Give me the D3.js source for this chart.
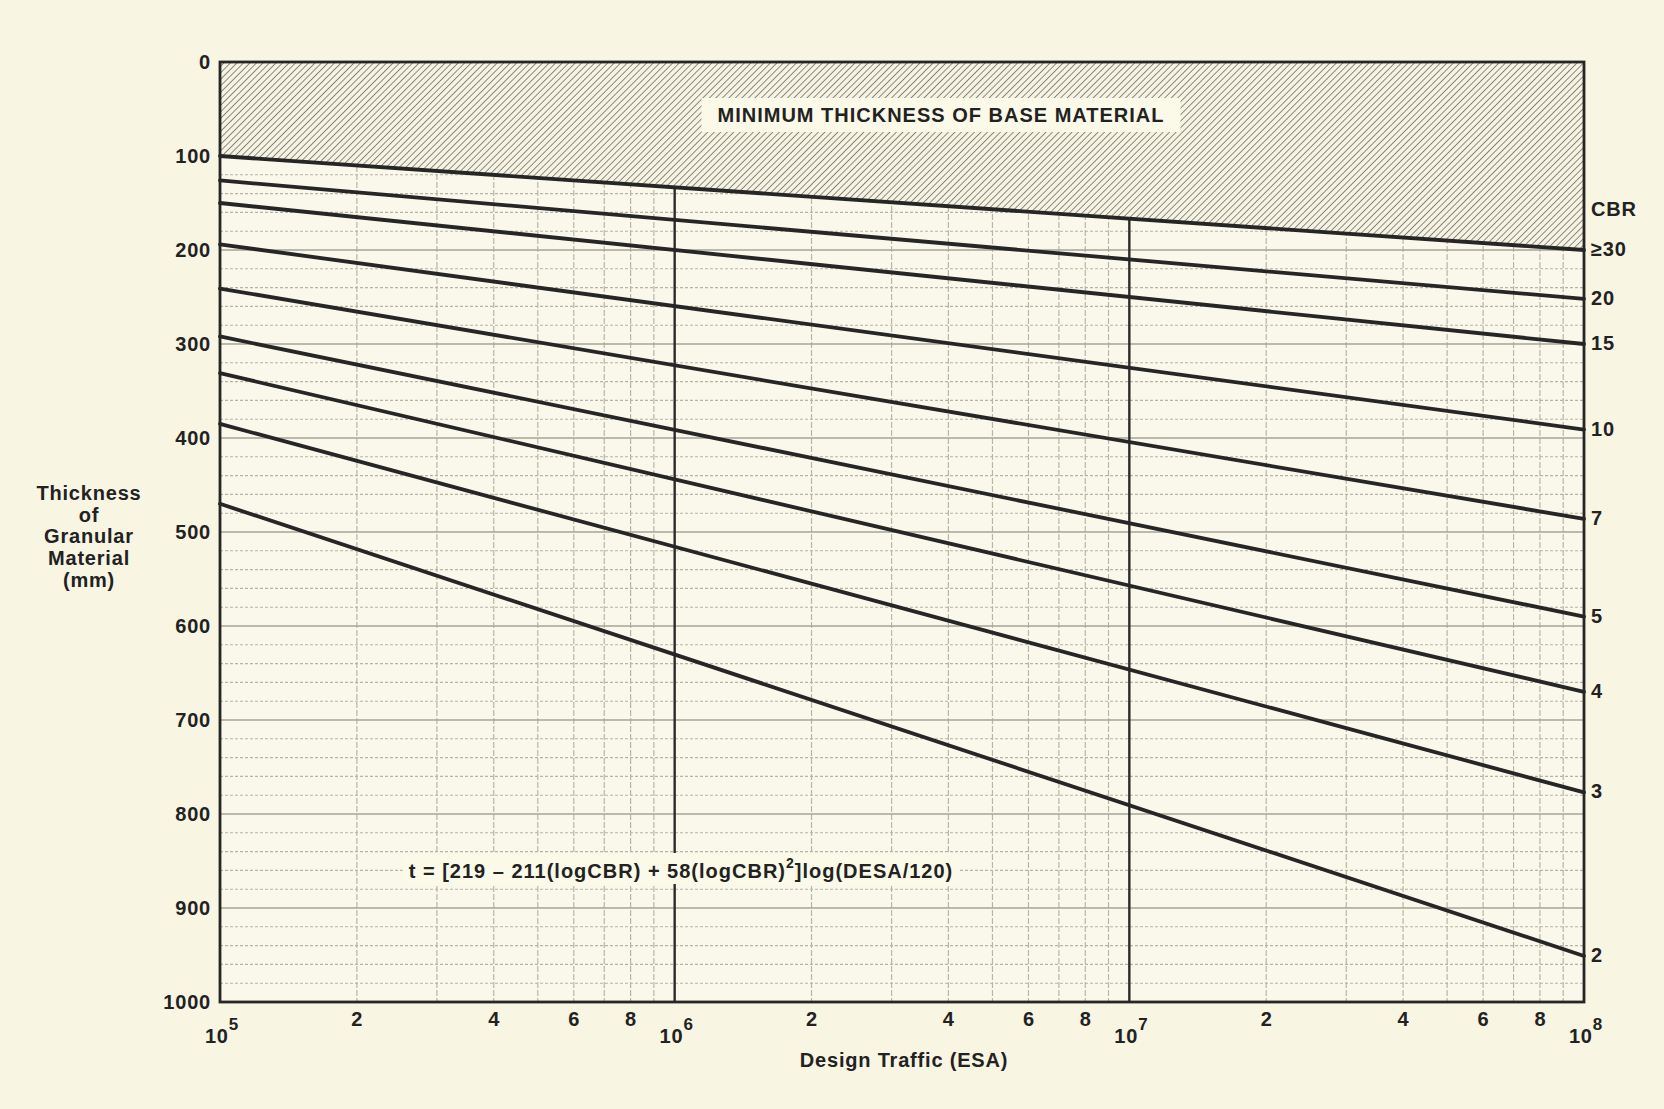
<!DOCTYPE html>
<html>
<head>
<meta charset="utf-8">
<script src="https://cdn.jsdelivr.net/npm/d3@7"></script>
<style>
  html, body { margin: 0; padding: 0; background: #f8f5e3; }
  svg { display: block; }
  text { font-family: "Liberation Sans", Arial, sans-serif; font-weight: bold; fill: #222; }
</style>
</head>
<body>
<svg id="chart" width="1664" height="1109"></svg>
<script>
// CBR curves: thickness (mm) read at the two ends of the traffic axis
const cbrLabels = ['≥30', '20', '15', '10', '7', '5', '4', '3', '2'];
const thickAt1e5 = [100, 126, 150, 194, 241, 292, 331, 385, 470];
const thickAt1e8 = [200, 252, 300, 391, 486, 590, 670, 777, 951];
const trafficEnds = [1e5, 1e8];

const yTicks = [0, 100, 200, 300, 400, 500, 600, 700, 800, 900, 1000];
const decades = [1e5, 1e6, 1e7, 1e8];
const decadeExp = ['5', '6', '7', '8'];
const minorMult = [2, 3, 4, 5, 6, 7, 8, 9];
const minorLabels = ['2', '4', '6', '8'];

const svg = d3.select('#chart');
const W = 1664, H = 1109;
const pLeft = 220, pRight = 1584, pTop = 62, pBottom = 1002;
const FS = 20, LS = '0.8px';

const x = d3.scaleLog().domain([1e5, 1e8]).range([pLeft, pRight]);
const y = d3.scaleLinear().domain([0, 1000]).range([pTop, pBottom]);

// background
svg.append('rect').attr('width', W).attr('height', H).attr('fill', '#f8f5e3');
svg.append('rect')
  .attr('x', pLeft).attr('y', pTop)
  .attr('width', pRight - pLeft).attr('height', pBottom - pTop)
  .attr('fill', '#faf8ea');

// hatch pattern
const defs = svg.append('defs');
defs.append('pattern')
  .attr('id', 'hatch')
  .attr('patternUnits', 'userSpaceOnUse')
  .attr('width', 4.6).attr('height', 4.6)
  .attr('patternTransform', 'rotate(45)')
  .append('line')
  .attr('x1', 0).attr('y1', 0).attr('x2', 0).attr('y2', 4.6)
  .attr('stroke', '#707068').attr('stroke-width', 1.6);

// grid
const grid = svg.append('g');
const minorX = [];
decades.slice(0, 3).forEach(d => minorMult.forEach(m => minorX.push(d * m)));

grid.selectAll('line.vminor')
  .data(minorX)
  .enter().append('line')
  .attr('class', 'vminor')
  .attr('x1', d => x(d)).attr('x2', d => x(d))
  .attr('y1', pTop).attr('y2', pBottom)
  .attr('stroke', '#b8b6a6').attr('stroke-width', 1.2)
  .attr('stroke-dasharray', '6,2');

grid.selectAll('line.hminor')
  .data(d3.range(20, 1000, 20))
  .enter().append('line')
  .attr('class', 'hminor')
  .attr('x1', pLeft).attr('x2', pRight)
  .attr('y1', d => y(d)).attr('y2', d => y(d))
  .attr('stroke', d => d % 100 === 0 ? '#a6a496' : '#b6b4a6')
  .attr('stroke-width', d => d % 100 === 0 ? 1.4 : 1.1)
  .attr('stroke-dasharray', d => d % 100 === 0 ? null : '3,2');

// decade lines
grid.selectAll('line.vmajor')
  .data([1e6, 1e7])
  .enter().append('line')
  .attr('class', 'vmajor')
  .attr('x1', d => x(d)).attr('x2', d => x(d))
  .attr('y1', pTop).attr('y2', pBottom)
  .attr('stroke', '#2b2b2b').attr('stroke-width', 2.4);

// hatched zone above the minimum line
const minData = trafficEnds.map((t, j) => ({ x: t, t: j === 0 ? thickAt1e5[0] : thickAt1e8[0] }));
const area = d3.area()
  .x(d => x(d.x))
  .y0(y(0))
  .y1(d => y(d.t));
svg.append('path').datum(minData).attr('d', area).attr('fill', '#f6f3e2');
svg.append('path').datum(minData).attr('d', area).attr('fill', 'url(#hatch)');

// CBR lines
const series = cbrLabels.map((lab, i) => ({
  label: lab,
  pts: [{ x: trafficEnds[0], t: thickAt1e5[i] }, { x: trafficEnds[1], t: thickAt1e8[i] }]
}));
const line = d3.line().x(d => x(d.x)).y(d => y(d.t));
svg.append('g').selectAll('path')
  .data(series)
  .enter().append('path')
  .attr('d', d => line(d.pts))
  .attr('fill', 'none')
  .attr('stroke', '#262626')
  .attr('stroke-width', 3.8)
  .attr('stroke-linecap', 'round');

// frame
svg.append('rect')
  .attr('x', pLeft).attr('y', pTop)
  .attr('width', pRight - pLeft).attr('height', pBottom - pTop)
  .attr('fill', 'none').attr('stroke', '#262626').attr('stroke-width', 2.8);

// y axis tick labels
const yAxis = d3.axisLeft(y).tickValues(yTicks).tickFormat(d3.format('d')).tickSize(0).tickPadding(9);
const gy = svg.append('g').attr('transform', `translate(${pLeft},0)`).call(yAxis);
gy.select('.domain').remove();
gy.selectAll('text')
  .attr('font-size', FS)
  .attr('font-family', '"Liberation Sans", Arial, sans-serif')
  .attr('font-weight', 'bold')
  .attr('fill', '#222')
  .style('letter-spacing', LS);

// y axis title
const yTitle = ['Thickness', 'of', 'Granular', 'Material', '(mm)'];
svg.append('text')
  .attr('text-anchor', 'middle')
  .attr('font-size', FS)
  .style('letter-spacing', LS)
  .selectAll('tspan')
  .data(yTitle)
  .enter().append('tspan')
  .attr('x', 89)
  .attr('y', (d, i) => 500 + i * 21.7)
  .text(d => d);

// x axis: decade labels with exponents
const xl = svg.append('g');
decades.forEach((d, i) => {
  const t = xl.append('text')
    .attr('x', x(d) + 2).attr('y', 1043)
    .attr('text-anchor', 'middle')
    .attr('font-size', FS)
    .style('letter-spacing', LS);
  t.append('tspan').text('10');
  t.append('tspan').attr('dy', -13).attr('font-size', 17).text(decadeExp[i]);
});
// minor labels
decades.slice(0, 3).forEach(d => {
  xl.selectAll(null)
    .data(minorLabels)
    .enter().append('text')
    .attr('x', m => x(d * +m))
    .attr('y', 1026)
    .attr('text-anchor', 'middle')
    .attr('font-size', FS)
    .text(m => m);
});

svg.append('text')
  .attr('x', (pLeft + pRight) / 2 + 2).attr('y', 1067)
  .attr('text-anchor', 'middle')
  .attr('font-size', FS)
  .style('letter-spacing', LS)
  .text('Design Traffic (ESA)');

// right side CBR labels
svg.append('text')
  .attr('x', 1591).attr('y', 216)
  .attr('font-size', FS)
  .style('letter-spacing', LS)
  .text('CBR');
svg.append('g').selectAll('text')
  .data(series)
  .enter().append('text')
  .attr('x', 1591)
  .attr('y', d => y(d.pts[1].t) + 6)
  .attr('font-size', FS)
  .style('letter-spacing', LS)
  .text(d => d.label);

// boxed labels
function boxedLabel(cx, cy, padX, padY, build) {
  const g = svg.append('g');
  const r = g.append('rect').attr('fill', '#fbf9e8');
  const t = g.append('text')
    .attr('x', cx).attr('y', cy)
    .attr('text-anchor', 'middle')
    .attr('dominant-baseline', 'central')
    .attr('font-size', FS)
    .style('letter-spacing', '1px');
  build(t);
  const b = t.node().getBBox();
  r.attr('x', b.x - padX).attr('y', b.y - padY)
    .attr('width', b.width + 2 * padX).attr('height', b.height + 2 * padY);
}

boxedLabel(941, 115, 16, 6, t => t.text('MINIMUM THICKNESS OF BASE MATERIAL'));

boxedLabel(681, 871, 6, 2, t => {
  t.append('tspan').text('t = [219 \u2013 211(logCBR) + 58(logCBR)');
  t.append('tspan').attr('dy', -8).attr('font-size', 14).text('2');
  t.append('tspan').attr('dy', 8).text(']log(DESA/120)');
});
</script>
</body>
</html>
